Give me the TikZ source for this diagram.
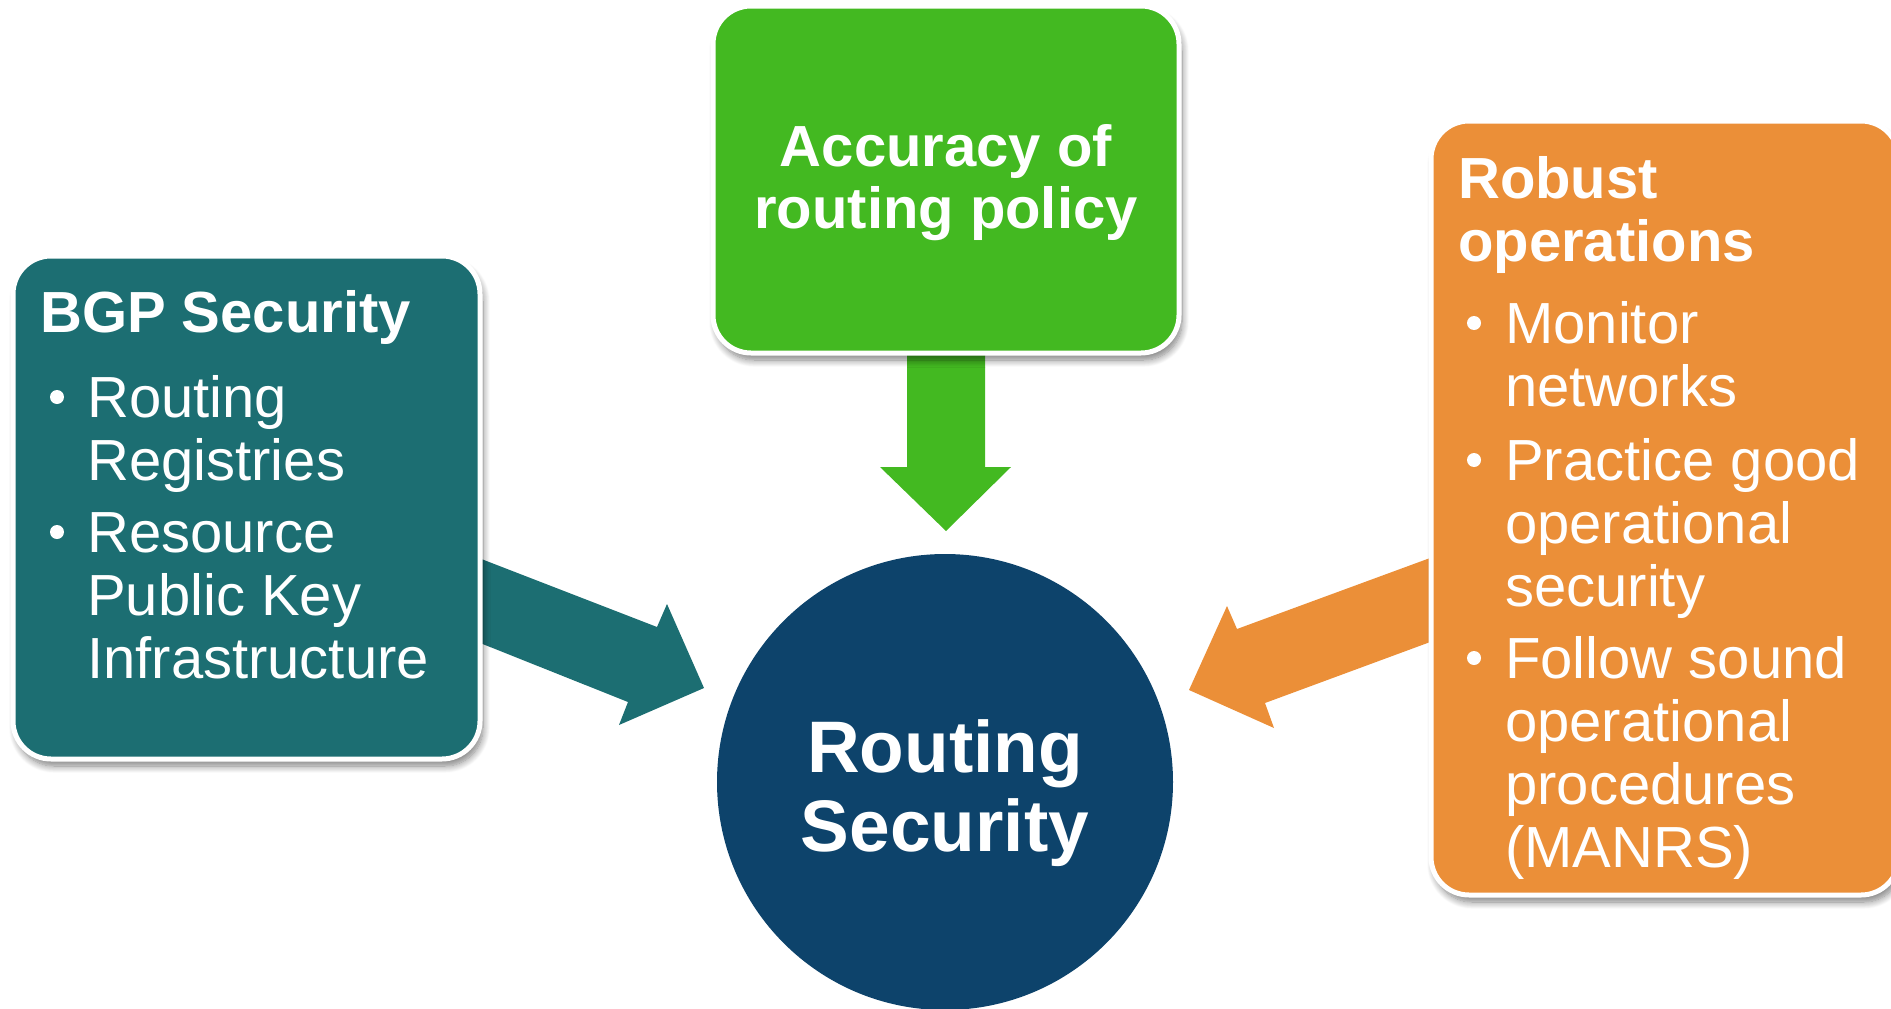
\documentclass[tikz,border=0pt]{standalone}
\usepackage{fontspec}
\setmainfont{Liberation Sans}
\usetikzlibrary{shadows.blur}
\definecolor{tealc}{HTML}{1C6E72}
\definecolor{greenc}{HTML}{43B921}
\definecolor{orangec}{HTML}{EB8F38}
\definecolor{navyc}{HTML}{0D436B}
\tikzset{
  card/.style={draw=white, line width=5pt, rounded corners=38pt,
    blur shadow={shadow xshift=3pt, shadow yshift=-7pt, shadow blur radius=7pt, shadow blur steps=10, shadow opacity=50}},
  bodytext/.style={text=white, anchor=base west, inner sep=0pt, font=\fontsize{58}{63}\selectfont},
  titletext/.style={text=white, anchor=base west, inner sep=0pt, font=\fontsize{58}{63}\selectfont\bfseries},
  dot/.style={circle, fill=white, inner sep=0pt, minimum size=14pt}
}
\begin{document}
\begin{tikzpicture}[x=1pt, y=-1pt]
\useasboundingbox (0,0) rectangle (1891,1009);
\clip (0,0) rectangle (1891,1009);

% central circle
\node[circle, fill=navyc, minimum size=456pt, inner sep=0pt] (core) at (945,782) {};
\node[text=white, anchor=base, inner sep=0pt, font=\fontsize{73}{79}\selectfont\bfseries] (t1) at (945,772) {Routing};
\node[text=white, anchor=base, inner sep=0pt, font=\fontsize{73}{79}\selectfont\bfseries] (t2) at (945,851) {Security};

% arrows (drawn before the cards so the cards cover their tails)
\fill[tealc] (440,543) -- (657,627) -- (667,604) -- (704,688) -- (619,725) -- (628,702) -- (440,627) -- cycle;
\fill[orangec] (1460,547) -- (1237,629) -- (1227,606) -- (1189,690) -- (1274,728) -- (1265,703) -- (1460,631) -- cycle;
\fill[greenc] (907,320) -- (907,467) -- (880,467) -- (946,531) -- (1011,467) -- (985,467) -- (985,320) -- cycle;

% cards
\path[card, fill=tealc] (13,256) rectangle (480,759);
\node[inner sep=0pt] (bgp) at (246,507) {};
\path[card, fill=greenc] (713,6) rectangle (1179,353);
\node[inner sep=0pt] (acc) at (946,180) {};
\path[card, fill=orangec] (1431,121) rectangle (1899,895);
\node[inner sep=0pt] (rob) at (1660,508) {};

% green card text
\node[text=white, anchor=base, inner sep=0pt, font=\fontsize{58}{63}\selectfont\bfseries] (a1) at (946,166) {Accuracy of};
\node[text=white, anchor=base, inner sep=0pt, font=\fontsize{58}{63}\selectfont\bfseries] (a2) at (946,228) {routing policy};

% left card text
\node[titletext] (l0) at (40,332) {BGP Security};
\node[dot] (lb1) at (57,397) {};
\node[bodytext] (l1) at (87,417) {Routing};
\node[bodytext] (l2) at (87,480) {Registries};
\node[dot] (lb2) at (57,532) {};
\node[bodytext] (l3) at (87,552) {Resource};
\node[bodytext] (l4) at (87,615) {Public Key};
\node[bodytext] (l5) at (87,678) {Infrastructure};

% right card text
\node[titletext] (r0) at (1458,198) {Robust};
\node[titletext] (r1) at (1458,261) {operations};
\node[dot] (rb1) at (1474,323) {};
\node[bodytext] (r2) at (1505,343) {Monitor};
\node[bodytext] (r3) at (1505,406) {networks};
\node[dot] (rb2) at (1474,460) {};
\node[bodytext] (r4) at (1505,480) {Practice good};
\node[bodytext] (r5) at (1505,543) {operational};
\node[bodytext] (r6) at (1505,606) {security};
\node[dot] (rb3) at (1474,658) {};
\node[bodytext] (r7) at (1505,678) {Follow sound};
\node[bodytext] (r8) at (1505,741) {operational};
\node[bodytext] (r9) at (1505,804) {procedures};
\node[bodytext] (r10) at (1505,867) {(MANRS)};
\end{tikzpicture}
\end{document}
